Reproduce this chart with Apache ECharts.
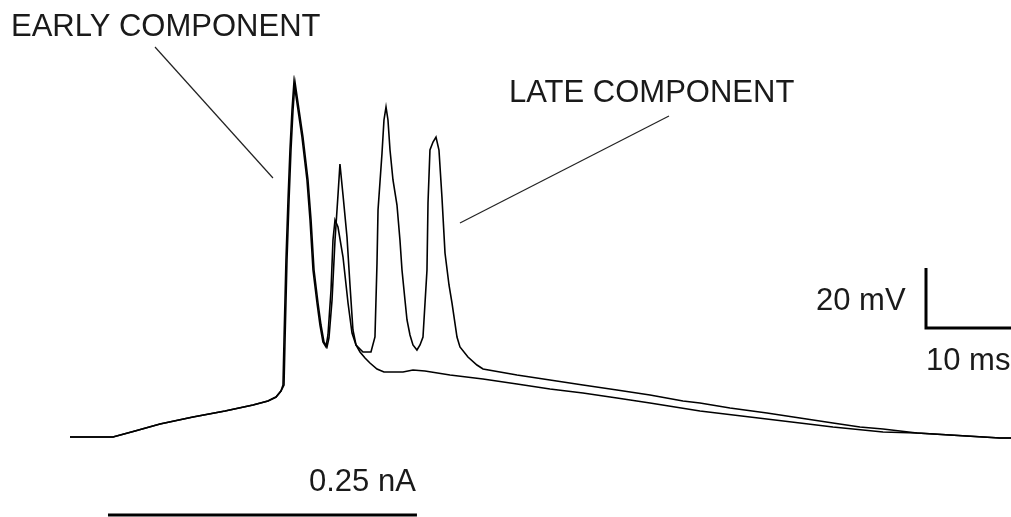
<!DOCTYPE html>
<html>
<head>
<meta charset="utf-8">
<script src="https://cdn.jsdelivr.net/npm/echarts@6/dist/echarts.min.js"></script>
<style>
  html, body { margin: 0; padding: 0; background: #fff; }
  #chart { width: 1011px; height: 517px; }
</style>
</head>
<body>
<div id="chart"></div>
<script>
// Membrane potential recordings: time in ms, voltage in mV.
// Trace with the early component (two spikes, then repolarises).
const earlyTrace = [
  [0, -70], [5.06, -70], [7.65, -68], [10.59, -65.67], [14.47, -63.33],
  [18.24, -61.33], [21.53, -59.33], [23.29, -58], [24.24, -56.67], [24.82, -54.67],
  [25.18, -52.67], [25.3, -37.67], [25.53, -11], [25.77, 9], [26.0, 25.67],
  [26.24, 39], [26.47, 48.33], [26.83, 41.33], [27.41, 30], [28.0, 15.67],
  [28.36, 2.33], [28.71, -14.33], [29.18, -25.33], [29.53, -32.67], [29.88, -38.33],
  [30.24, -40], [30.47, -37], [30.83, -24.33], [31.18, -4.33], [31.53, 10.67],
  [31.76, 21], [32.12, 10.67], [32.59, -3.33], [32.94, -19.33], [33.29, -34.33],
  [33.65, -39.33], [34.12, -41.67], [34.71, -43.67], [35.29, -45.33], [36.12, -47.33],
  [36.94, -48.33], [39.18, -48.33], [40.35, -47.67], [41.76, -48], [44.71, -49.33],
  [48.59, -50.67], [52.59, -52.33], [56.47, -54], [60.35, -55.33], [64.35, -57],
  [68.24, -58.67], [74.12, -61.33], [80, -63.33], [85.88, -65.33], [89.76, -66.67],
  [95.65, -68.33], [99.65, -68.67], [103.53, -69.33], [109.41, -70.33], [110.71, -70.33]
];

// Trace with the late component (burst of four spikes).
const lateTrace = [
  [0, -70], [5.06, -70], [7.65, -68], [10.59, -65.67], [14.47, -63.33],
  [18.24, -61.33], [21.53, -59.33], [23.29, -58], [24.24, -56.67], [24.82, -54.67],
  [25.06, -52.67], [25.18, -37.67], [25.41, -11], [25.65, 9], [25.88, 25.67],
  [26.12, 39], [26.35, 48.33], [26.71, 41.33], [27.29, 30], [27.88, 15.67],
  [28.24, 2.33], [28.59, -14.33], [29.06, -25.33], [29.41, -32.67], [29.76, -38.33],
  [30.12, -40], [30.35, -36], [30.71, -21], [30.94, -4.33], [31.18, 2.33],
  [31.53, 0], [32.12, -10], [32.71, -25.33], [33.18, -35.33], [33.65, -39.33],
  [34.47, -41.67], [35.41, -41.67], [35.88, -36.67], [36.12, -12], [36.24, 5.67],
  [36.71, 24.67], [36.94, 35.67], [37.18, 40], [37.41, 35.67], [37.65, 25.67],
  [38, 15.67], [38.47, 7.33], [38.82, -4.33], [39.06, -14.33], [39.41, -24.33],
  [39.65, -31], [40, -36], [40.35, -39.33], [40.82, -41], [41.18, -39.33],
  [41.53, -36.67], [42, -14.33], [42.12, 8], [42.35, 25.67], [42.71, 28.33],
  [43.06, 30], [43.41, 25.67], [43.76, 10], [44.12, -8.67], [44.59, -19.33],
  [44.94, -25.33], [45.53, -36.67], [45.88, -40], [46.82, -43.33], [47.88, -46],
  [48.59, -47.33], [52.59, -49.33], [56.47, -51], [60.35, -52.67], [64.35, -54.33],
  [68.24, -56], [72.12, -58], [74.12, -58.67], [77.65, -60.33], [82, -62],
  [85.88, -63.67], [89.76, -65.33], [92.94, -66.67], [95.65, -67.33], [99.65, -68.67],
  [103.53, -69.33], [109.41, -70.33], [110.71, -70.33]
];

// Current step bar (0.25 nA) below the traces.
const currentStep = [[4.47, -96], [40.82, -96]];

// Calibration bars: 20 mV vertical, 10 ms horizontal.
const scaleBar = [[100.71, -13.67], [100.71, -33.67], [110.71, -33.67]];

// Pointer lines from the component labels to the traces.
const earlyPointer = [[10, 60], [23.88, 16.33]];
const latePointer = [[70.47, 37], [45.88, 1.33]];

const labelTexts = ['EARLY COMPONENT', 'LATE COMPONENT', '20 mV', '10 ms', '0.25 nA'];

const chart = echarts.init(document.getElementById('chart'), null, { renderer: 'canvas' });

const lineSeries = (data, width, color) => ({
  type: 'line',
  data: data,
  symbol: 'none',
  smooth: false,
  clip: false,
  animation: false,
  silent: true,
  lineStyle: { color: color, width: width, cap: 'butt', join: 'miter' }
});

const textStyle = (t) => ({
  text: t,
  fill: '#1a1a1a',
  font: '31px "Liberation Sans", Arial, sans-serif',
  textVerticalAlign: 'middle'
});

chart.setOption({
  backgroundColor: '#ffffff',
  animation: false,
  grid: { left: 0, right: 0, top: 0, bottom: 0, containLabel: false },
  xAxis: { type: 'value', min: -8.235, max: 110.71, show: false },
  yAxis: { type: 'value', min: -96.67, max: 75.67, show: false },
  series: [
    lineSeries(earlyTrace, 1.6, '#000'),
    lineSeries(lateTrace, 1.6, '#000'),
    lineSeries(currentStep, 3, '#000'),
    lineSeries(scaleBar, 3, '#000'),
    lineSeries(earlyPointer, 1.2, '#222'),
    lineSeries(latePointer, 1.2, '#222')
  ],
  graphic: [
    { type: 'text', left: 11, top: 12, style: textStyle(labelTexts[0]) },
    { type: 'text', left: 509, top: 78, style: textStyle(labelTexts[1]) },
    { type: 'text', left: 816, top: 286, style: textStyle(labelTexts[2]) },
    { type: 'text', left: 926, top: 346, style: textStyle(labelTexts[3]) },
    { type: 'text', left: 309, top: 467, style: textStyle(labelTexts[4]) }
  ]
});
</script>
</body>
</html>
